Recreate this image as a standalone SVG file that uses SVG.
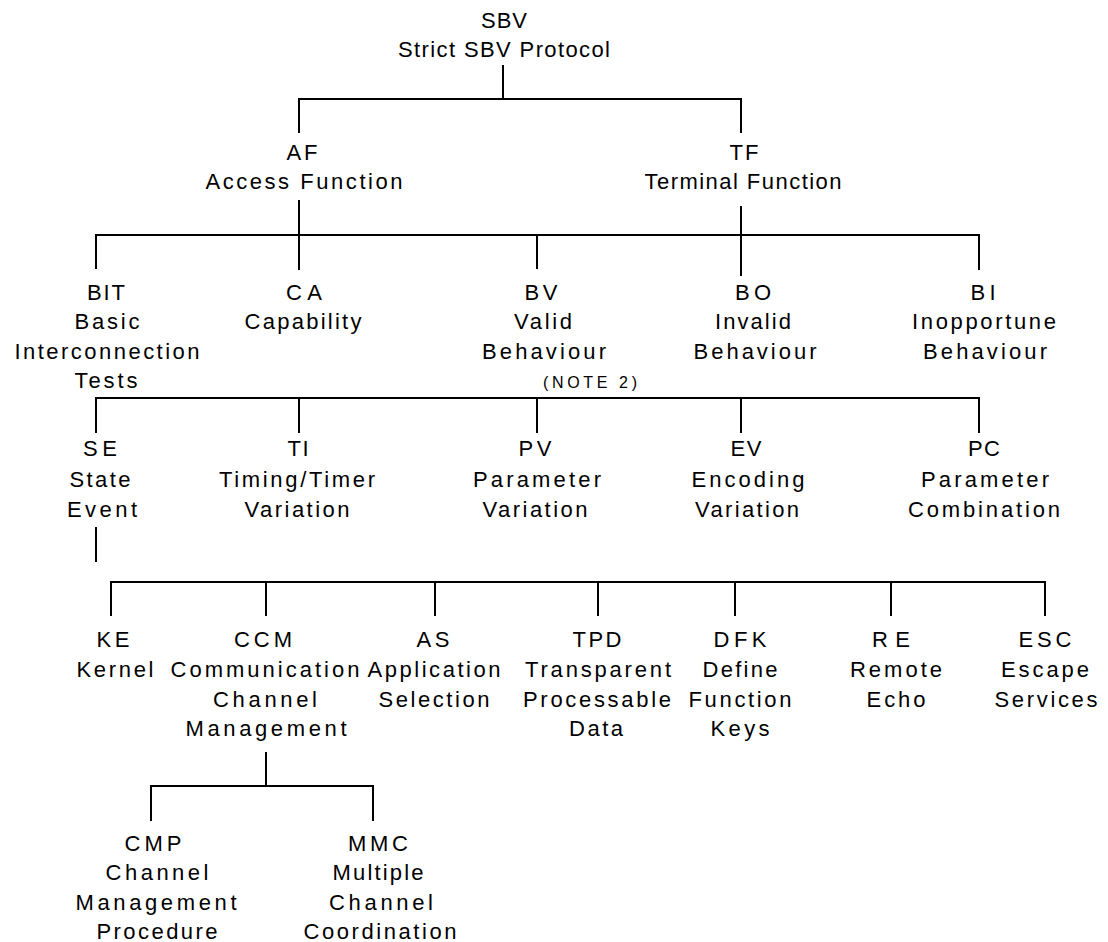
<svg xmlns="http://www.w3.org/2000/svg" width="1108" height="942" viewBox="0 0 1108 942">
<style>
text{font-family:"Liberation Sans",Arial,sans-serif;font-size:22px;fill:#000;text-anchor:middle}
.n{font-size:16px}
.c line,.c path{stroke:#000;stroke-width:2;fill:none}
</style>
<rect width="1108" height="942" fill="#fff"/>
<g id="connectors" class="c">
<path d="M503 65V99M299 133V99H741V133"/>
<path d="M299 200V270M741 206V276M96 269V235H979V270M537 235V269"/>
<path d="M96 433V398H979V433M299 398V433M537 398V433M741 398V433"/>
<path d="M96 527V562"/>
<path d="M111 616V582H1045V616M266 582V616M435 582V616M598 582V616M735 582V616M891 582V616"/>
<path d="M266 752V786M151 821V786H373V821"/>
</g>
<g id="SBV"><text x="504" y="28" textLength="46" lengthAdjust="spacing">SBV</text><text x="504" y="57" textLength="212" lengthAdjust="spacing">Strict SBV Protocol</text></g>
<g id="AF"><text x="302" y="160" textLength="31" lengthAdjust="spacing">AF</text><text x="304" y="189" textLength="197" lengthAdjust="spacing">Access Function</text></g>
<g id="TF"><text x="744" y="160" textLength="29" lengthAdjust="spacing">TF</text><text x="743" y="189" textLength="197" lengthAdjust="spacing">Terminal Function</text></g>
<g id="BIT"><text x="106" y="300" textLength="38" lengthAdjust="spacing">BIT</text><text x="107" y="329" textLength="65" lengthAdjust="spacing">Basic</text><text x="107" y="359" textLength="185" lengthAdjust="spacing">Interconnection</text><text x="106" y="388" textLength="63" lengthAdjust="spacing">Tests</text></g>
<g id="CA"><text x="304" y="300" textLength="36" lengthAdjust="spacing">CA</text><text x="303" y="329" textLength="117" lengthAdjust="spacing">Capability</text></g>
<g id="BV"><text x="541" y="300" textLength="33" lengthAdjust="spacing">BV</text><text x="543" y="329" textLength="58" lengthAdjust="spacing">Valid</text><text x="544" y="359" textLength="124" lengthAdjust="spacing">Behaviour</text><text class="n" x="590" y="388" textLength="94" lengthAdjust="spacing">(NOTE 2)</text></g>
<g id="BO"><text x="753" y="300" textLength="36" lengthAdjust="spacing">BO</text><text x="753" y="329" textLength="76" lengthAdjust="spacing">Invalid</text><text x="755" y="359" textLength="123" lengthAdjust="spacing">Behaviour</text></g>
<g id="BI"><text x="983" y="300" textLength="25" lengthAdjust="spacing">BI</text><text x="984" y="329" textLength="144" lengthAdjust="spacing">Inopportune</text><text x="985" y="359" textLength="124" lengthAdjust="spacing">Behaviour</text></g>
<g id="SE"><text x="100" y="456" textLength="34" lengthAdjust="spacing">SE</text><text x="100" y="487" textLength="61" lengthAdjust="spacing">State</text><text x="102" y="517" textLength="70" lengthAdjust="spacing">Event</text></g>
<g id="TI"><text x="298" y="456" textLength="21" lengthAdjust="spacing">TI</text><text x="297" y="487" textLength="156" lengthAdjust="spacing">Timing/Timer</text><text x="297" y="517" textLength="105" lengthAdjust="spacing">Variation</text></g>
<g id="PV"><text x="535" y="456" textLength="33" lengthAdjust="spacing">PV</text><text x="537" y="487" textLength="128" lengthAdjust="spacing">Parameter</text><text x="535" y="517" textLength="105" lengthAdjust="spacing">Variation</text></g>
<g id="EV"><text x="746" y="456" textLength="31" lengthAdjust="spacing">EV</text><text x="748" y="487" textLength="113" lengthAdjust="spacing">Encoding</text><text x="747" y="517" textLength="104" lengthAdjust="spacing">Variation</text></g>
<g id="PC"><text x="984" y="456" textLength="32" lengthAdjust="spacing">PC</text><text x="985" y="487" textLength="128" lengthAdjust="spacing">Parameter</text><text x="984" y="517" textLength="152" lengthAdjust="spacing">Combination</text></g>
<g id="KE"><text x="113" y="647" textLength="33" lengthAdjust="spacing">KE</text><text x="115" y="677" textLength="77" lengthAdjust="spacing">Kernel</text></g>
<g id="CCM"><text x="263" y="647" textLength="58" lengthAdjust="spacing">CCM</text><text x="265" y="677" textLength="189" lengthAdjust="spacing">Communication</text><text x="265" y="707" textLength="104" lengthAdjust="spacing">Channel</text><text x="266" y="736" textLength="161" lengthAdjust="spacing">Management</text></g>
<g id="AS"><text x="433" y="647" textLength="33" lengthAdjust="spacing">AS</text><text x="434" y="677" textLength="133" lengthAdjust="spacing">Application</text><text x="434" y="707" textLength="111" lengthAdjust="spacing">Selection</text></g>
<g id="TPD"><text x="597" y="647" textLength="49" lengthAdjust="spacing">TPD</text><text x="598" y="677" textLength="146" lengthAdjust="spacing">Transparent</text><text x="597" y="707" textLength="148" lengthAdjust="spacing">Processable</text><text x="596" y="736" textLength="54" lengthAdjust="spacing">Data</text></g>
<g id="DFK"><text x="740" y="647" textLength="53" lengthAdjust="spacing">DFK</text><text x="740" y="677" textLength="75" lengthAdjust="spacing">Define</text><text x="740" y="707" textLength="103" lengthAdjust="spacing">Function</text><text x="740" y="736" textLength="59" lengthAdjust="spacing">Keys</text></g>
<g id="RE"><text x="891" y="647" textLength="38" lengthAdjust="spacing">RE</text><text x="896" y="677" textLength="92" lengthAdjust="spacing">Remote</text><text x="896" y="707" textLength="59" lengthAdjust="spacing">Echo</text></g>
<g id="ESC"><text x="1045" y="647" textLength="53" lengthAdjust="spacing">ESC</text><text x="1045" y="677" textLength="88" lengthAdjust="spacing">Escape</text><text x="1046" y="707" textLength="103" lengthAdjust="spacing">Services</text></g>
<g id="CMP"><text x="153" y="851" textLength="57" lengthAdjust="spacing">CMP</text><text x="157" y="880" textLength="103" lengthAdjust="spacing">Channel</text><text x="156" y="910" textLength="161" lengthAdjust="spacing">Management</text><text x="157" y="939" textLength="121" lengthAdjust="spacing">Procedure</text></g>
<g id="MMC"><text x="378" y="851" textLength="60" lengthAdjust="spacing">MMC</text><text x="378" y="880" textLength="91" lengthAdjust="spacing">Multiple</text><text x="381" y="910" textLength="104" lengthAdjust="spacing">Channel</text><text x="380" y="939" textLength="153" lengthAdjust="spacing">Coordination</text></g>
</svg>
